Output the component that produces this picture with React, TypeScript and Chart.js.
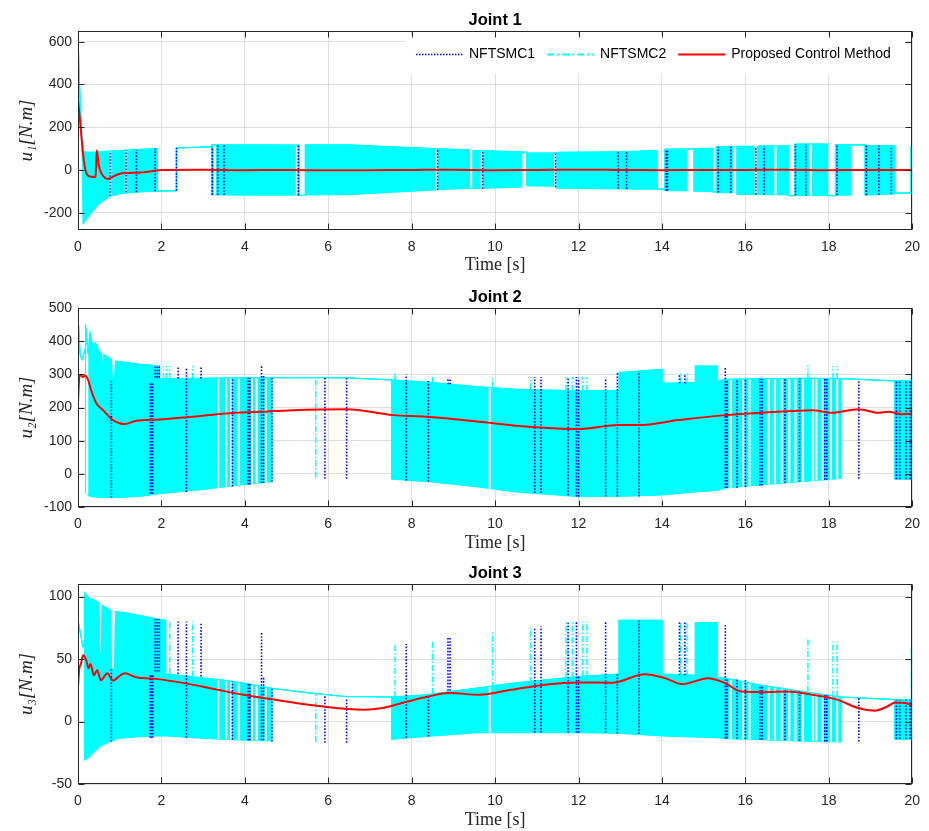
import { useEffect, useRef } from "react";
import { Chart, registerables } from "chart.js";

Chart.register(...registerables);

// ---------------- DATA ----------------
// Joint 1: NFTSMC2 chattering envelope (time, upper, lower)
const j1BandT = [0, 0.03, 0.06, 0.09, 0.12, 0.3, 0.5, 0.75, 1.0, 1.3, 1.6, 1.9, 1.9, 2.36, 2.36, 3.2, 3.2, 4.3, 5.3, 5.3, 5.45, 5.45, 6.5, 7.5, 8.55, 9.38, 9.38, 9.47, 9.47, 10.64, 10.64, 10.76, 10.76, 11.4, 11.48, 12.5, 13.4, 13.88, 13.88, 14.07, 14.07, 14.6, 14.6, 14.77, 14.77, 15.2, 15.2, 15.3, 15.3, 15.7, 15.7, 15.8, 15.8, 16.2, 16.2, 16.3, 16.3, 16.7, 17.03, 17.03, 17.19, 17.19, 17.97, 17.97, 18.16, 18.16, 18.52, 18.52, 18.87, 18.87, 19.58, 19.58, 19.97, 19.97, 20];
const j1BandHi = [640, 430, 280, 165, 85, 82, 85, 88, 90, 94, 97, 100, -99, -97, 103, 108, 117, 117, 116, -119, -119, 117, 117, 108, 100, 93, -86, -86, 90, 85, 83, 82, 79, 79, 82, 84, 87, 90, -90, -90, 97, 98, 98, 99, 100, 101, -102, -103, 109, 109, 109, 110, 110, 110, -115, -115, 112, 112, 113, -120, -120, 121, 121, -120, -120, 118, 118, 117, 117, 115, 113, -108, -108, 110, 110];
const j1BandLo = [640, 430, 280, 165, -255, -205, -160, -125, -112, -106, -102, -100, -99, -97, 103, 108, -117, -118, -118, -119, -119, -117, -116, -105, -94, -86, -86, -86, -88, -80, 83, 82, -75, -76, -86, -88, -90, -90, -90, -90, -97, -98, 98, 99, -100, -101, -102, -103, -106, -107, 109, 110, -115, -115, -115, -115, -115, -116, -117, -120, -120, -120, -120, -120, -120, -118, -118, 117, 117, -118, -112, -108, -108, -108, -108];
const j1GapT = [0.77, 1.15, 3.28, 5.25, 8.6, 9.68, 11.44, 16.72, 17.57];
const j1SpikeT: number[] = [];
const j1SpikeLo: number[] = [];
const j1SpikeHi: number[] = [];
const j1BlueT = [0.77, 1.15, 1.4, 1.85, 2.36, 3.22, 3.35, 3.5, 5.28, 8.62, 9.7, 11.45, 12.95, 13.15, 14.1, 14.13, 15.35, 15.65, 16.25, 16.45, 17.2, 17.45, 18.2, 18.9, 19.2, 19.5];
const j1BlueLo = [-122, -105, -104, -100, -97, -117, -117, -117, -118, -94, -88, -80, -89, -89, -97, -97, -106, -107, -115, -115, -120, -120, -118, -118, -116, -113];
const j1BlueHi = [88, 92, 94, 100, 103, 108, 117, 117, 116, 100, 90, 80, 86, 86, 97, 97, 109, 109, 110, 112, 121, 121, 118, 115, 114, 113];
const j1RedT = [0, 0.04, 0.08, 0.13, 0.18, 0.25, 0.4, 0.42, 0.45, 0.5, 0.56, 0.65, 0.72, 0.85, 1.0, 1.2, 1.5, 1.8, 2.0, 3, 4, 5, 6, 7, 8, 9, 10, 11, 12, 13, 14, 15, 16, 17, 18, 19, 20];
const j1RedV = [330, 250, 160, 60, 0, -28, -33, -30, 92, 20, -15, -38, -42, -30, -18, -14, -12, -5, 0, 1, -1, 0, -2, -1, 0, 1, -1, 0, 1, 0, -1, 0, 0, 1, -1, 0, 0];

// Joint 2
const j2BandT = [0, 0.05, 0.1, 0.15, 0.18, 0.18, 0.24, 0.29, 0.35, 0.42, 0.5, 0.56, 0.58, 0.62, 0.8, 0.82, 0.88, 0.9, 1.5, 1.95, 1.95, 3.0, 3.4, 4.0, 4.65, 4.65, 6.0, 6.5, 7.52, 7.52, 8.5, 9.6, 10.5, 12.0, 12.97, 12.97, 14.0, 14.0, 14.8, 14.8, 15.32, 15.32, 15.52, 16.5, 17.5, 18.3, 18.3, 19.58, 19.58, 20];
const j2BandHi = [480, 360, 345, 365, 380, 450, 360, 425, 385, 395, 370, 360, 310, 360, 345, 285, 285, 340, 330, 325, 287, 288, 289, 290, 290, 290, 290, 289, 283, 283, 275, 262, 255, 250, 252, 305, 315, 273, 275, 325, 325, 280, 285, 287, 288, 287, 287, 280, 280, 280];
const j2BandLo = [480, 360, 345, 365, 380, -58, -65, -68, -70, -70, -71, -71, -71, -72, -72, -72, -72, -72, -68, -60, -60, -47, -41, -32, -24, 290, 290, 289, 283, -16, -25, -40, -55, -69, -68, -68, -64, -64, -55, -55, -50, -50, -43, -32, -22, -14, 287, 280, -16, -17];
const j2GapT = [0.22, 3.36, 3.55, 3.67, 3.85, 4.17, 4.28, 4.5, 9.87, 15.65, 15.95, 16.1, 16.56, 16.71, 16.87, 17.05, 17.2, 17.38, 17.62, 17.7, 17.85, 18.05, 18.2];
const j2SpikeT = [2.05, 2.12, 2.2, 2.75, 5.7, 7.6, 8.5, 9.94, 10.85, 11.7, 11.85, 12.1, 12.2, 14.45, 14.6, 17.5, 18.1, 18.2, 19.98];
const j2SpikeLo = [287, 287, 287, 287, -12, 283, 275, 260, 255, 250, 250, 250, 250, 273, 273, 288, 287, 287, 280];
const j2SpikeHi = [325, 325, 325, 325, 290, 308, 300, 293, 292, 292, 292, 292, 292, 303, 303, 328, 325, 325, 300];
const j2BlueT = [0.8, 1.73, 1.76, 1.79, 1.85, 1.9, 1.95, 2.4, 2.6, 2.95, 3.7, 4.08, 4.12, 4.4, 4.45, 4.65, 5.92, 6.44, 7.87, 8.4, 8.87, 8.92, 10.95, 11.1, 11.75, 11.95, 12.0, 12.65, 12.93, 13.45, 14.42, 14.55, 15.52, 15.56, 15.8, 16.0, 16.35, 16.4, 16.95, 17.3, 17.9, 17.95, 18.72, 19.62, 19.7, 19.85, 19.95];
const j2BlueLo = [-72, -60, -60, -60, 290, 290, 290, 287, -55, 287, -38, -32, -32, -28, -28, -24, -15, -15, -20, -23, 270, 270, -58, -58, -65, -68, -69, -68, -68, -68, 273, 273, -43, -43, -42, -40, -35, -35, -28, -24, -18, -18, -15, -16, -16, -16, -16];
const j2BlueHi = [285, 272, 272, 272, 325, 325, 325, 325, 318, 325, 289, 290, 290, 330, 300, 290, 290, 290, 300, 280, 290, 290, 292, 292, 292, 292, 290, 290, 305, 310, 300, 300, 322, 285, 285, 285, 287, 287, 287, 288, 288, 288, 285, 280, 280, 280, 280];
const j2RedT = [0, 0.03, 0.06, 0.12, 0.18, 0.25, 0.32, 0.44, 0.6, 0.84, 1.12, 1.4, 1.95, 2.75, 3.55, 4.35, 5.15, 6.43, 7.55, 8.35, 9.62, 10.8, 12.0, 12.97, 13.45, 14.4, 15.52, 16.4, 17.6, 18.07, 18.71, 19.19, 19.43, 19.75, 20];
const j2RedV = [215, 290, 298, 292, 296, 280, 250, 213, 192, 162, 150, 160, 164, 172, 182, 187, 192, 195, 177, 172, 157, 142, 135, 147, 147, 162, 177, 184, 192, 184, 195, 184, 187, 180, 182];

// Joint 3
const j3BandT = [0, 0.06, 0.12, 0.155, 0.155, 0.25, 0.4, 0.5, 0.52, 0.56, 0.58, 0.78, 0.8, 0.88, 0.9, 1.3, 1.9, 2.1, 2.1, 2.7, 3.5, 4.0, 4.65, 4.65, 5.5, 6.4, 7.52, 7.52, 8.35, 9.6, 10.5, 12.0, 12.97, 12.97, 14.0, 14.0, 14.8, 14.8, 15.32, 15.32, 15.52, 16.3, 17.6, 18.3, 18.3, 19.58, 19.58, 20];
const j3BandHi = [81, 70, 60, 62, 103, 99, 97, 95, 55, 55, 93, 89, 42, 42, 88, 86, 82, 81, 38, 36, 33, 30.5, 26.5, 26.5, 23, 20, 19.6, 19.6, 21.4, 27, 31, 36, 38, 81, 81, 38, 37, 79, 79, 35, 34.7, 29.4, 22.8, 19.6, 19.6, 17.5, 17.5, 17.5];
const j3BandLo = [81, 70, 60, 62, -31, -29, -24, -21, -20, -19.6, -19, -16, -16, -15, -14, -12.5, -11.6, -11.5, -11.5, -13, -14.3, -15, -15.6, 26.5, 23, 20, 19.6, -14.3, -12, -9, -9, -9, -9.5, -9.5, -11.6, -11.6, -12.5, -12.5, -13, -13, -13.8, -14.5, -16, -16.4, 19.6, 17.5, -14.3, -14.3];
const j3GapT = [3.36, 3.55, 3.67, 3.85, 4.17, 4.28, 4.5, 9.87, 15.65, 15.95, 16.1, 16.56, 16.71, 16.87, 17.05, 17.2, 17.38, 17.62, 17.7, 17.85, 18.05, 18.2];
const j3SpikeT = [2.2, 2.75, 5.7, 7.6, 8.5, 9.94, 10.85, 11.7, 11.85, 12.1, 12.2, 14.45, 14.6, 17.5, 18.1, 18.2, 19.98];
const j3SpikeLo = [38, 36, -16.4, 19.6, 22, 27, 31, 35, 35, 36, 36, 37, 37, 24, 20, 20, 17];
const j3SpikeHi = [81, 80, 23, 62, 65, 72, 75, 80, 80, 80, 80, 80, 80, 66, 64, 64, 60];
const j3BlueT = [0.8, 1.73, 1.76, 1.79, 1.85, 1.9, 1.95, 2.4, 2.6, 2.95, 3.7, 4.08, 4.12, 4.4, 4.45, 4.65, 5.92, 6.44, 7.87, 8.4, 8.87, 8.92, 10.95, 11.1, 11.75, 11.95, 12.0, 12.65, 12.93, 13.45, 14.42, 14.55, 15.52, 15.56, 15.8, 16.0, 16.35, 16.4, 16.95, 17.3, 17.9, 17.95, 18.72, 19.62, 19.7, 19.85, 19.95];
const j3BlueLo = [-16, -13, -13, -13, 40, 40, 40, 38, -13, 36, -14.5, -15, -15, -15, -15, -16, -17, -17, -13, -12, 22, 22, -9, -9, -9, -9, -9, -9, -9.5, -10, 37, 37, -13.5, -13.5, -13.8, -14, -14.5, -14.5, -15, -15.5, -16, -16, -16, -14, -14, -14, -14];
const j3BlueHi = [42, 38, 38, 38, 82, 82, 82, 80, 80, 79, 32, 30, 30, 71, 35, 27, 21, 19, 62, 21, 67, 67, 75, 76, 79, 80, 36, 80, 38, 81, 80, 80, 77, 35, 34, 33, 29, 29, 26, 24, 21, 21, 19, 17.5, 17.5, 17.5, 17.5];
const j3RedT = [0, 0.03, 0.07, 0.12, 0.2, 0.25, 0.3, 0.38, 0.46, 0.55, 0.7, 0.84, 1.02, 1.12, 1.4, 1.92, 2.55, 3.35, 3.97, 4.6, 5.87, 6.83, 7.3, 7.9, 8.4, 8.9, 9.62, 10.4, 11.2, 12.0, 12.8, 13.6, 14.07, 14.5, 15.1, 15.5, 15.9, 16.5, 17.0, 17.6, 18.2, 18.7, 19.1, 19.4, 19.6, 19.9, 20];
const j3RedV = [28, 42, 46, 53, 49, 42.6, 46, 37, 41, 33, 38.6, 32.8, 37, 38.6, 35.4, 33.9, 30.7, 25.4, 21.4, 18, 12, 9.5, 10.8, 16, 20, 22.8, 21.4, 25.4, 29.4, 31.2, 31, 37.8, 34.7, 29.9, 34.7, 31, 24, 23.5, 24, 21.4, 17.5, 10.8, 8.7, 12, 15.3, 14.3, 11.7];

const titles = ["Joint 1", "Joint 2", "Joint 3"];
const yLabels = ["u\u2081[N.m]", "u\u2082[N.m]", "u\u2083[N.m]"];
const legendNames = ["NFTSMC1", "NFTSMC2", "Proposed Control Method"];
const xLabel = "Time [s]";

// ---------------- STYLE ----------------
const CYAN = "#00ffff";
const BLUE = "#0000ff";
const RED = "#ff0000";
const AX = "#262626";
const GRID = "#dedede";
const SANS = "'Liberation Sans', Arial, Helvetica, sans-serif";
const SERIF = "'Liberation Serif', 'Times New Roman', serif";
const W = 929;

type Pt = { x: number; y: number | null };

const pts = (t: number[], v: number[]): Pt[] => t.map((x, i) => ({ x, y: v[i] }));
const bars = (t: number[], lo: number[], hi: number[]): Pt[] =>
  t.flatMap((x, i) => [{ x, y: lo[i] }, { x, y: hi[i] }, { x, y: null }]);
const envAt = (t: number[], v: number[], x: number) => {
  for (let i = 0; i < t.length - 1; i++) {
    if (t[i + 1] > t[i] && x >= t[i] && x <= t[i + 1]) {
      const f = (x - t[i]) / (t[i + 1] - t[i]);
      return v[i] + f * (v[i + 1] - v[i]);
    }
  }
  return v[v.length - 1];
};
const gapBars = (g: number[], t: number[], hi: number[], lo: number[]): Pt[] =>
  g.flatMap((x) => [{ x, y: envAt(t, lo, x) }, { x, y: envAt(t, hi, x) }, { x, y: null }]);

interface PanelCfg {
  idx: number;
  top: number;
  height: number;
  padTop: number;
  xHeight: number;
  xTitlePad: number;
  yMin: number;
  yMax: number;
  yStep: number;
  bandT: number[];
  bandHi: number[];
  bandLo: number[];
  gapT: number[];
  spikeT: number[];
  spikeLo: number[];
  spikeHi: number[];
  blueT: number[];
  blueLo: number[];
  blueHi: number[];
  redT: number[];
  redV: number[];
}

const panels: PanelCfg[] = [
  { idx: 0, top: 0, height: 278, padTop: 31, xHeight: 48, xTitlePad: 2, yMin: -281, yMax: 650, yStep: 200,
    bandT: j1BandT, bandHi: j1BandHi, bandLo: j1BandLo, gapT: j1GapT, spikeT: j1SpikeT, spikeLo: j1SpikeLo, spikeHi: j1SpikeHi,
    blueT: j1BlueT, blueLo: j1BlueLo, blueHi: j1BlueHi, redT: j1RedT, redV: j1RedV },
  { idx: 1, top: 278, height: 278, padTop: 30, xHeight: 49, xTitlePad: 2, yMin: -100, yMax: 500, yStep: 100,
    bandT: j2BandT, bandHi: j2BandHi, bandLo: j2BandLo, gapT: j2GapT, spikeT: j2SpikeT, spikeLo: j2SpikeLo, spikeHi: j2SpikeHi,
    blueT: j2BlueT, blueLo: j2BlueLo, blueHi: j2BlueHi, redT: j2RedT, redV: j2RedV },
  { idx: 2, top: 556, height: 275, padTop: 28, xHeight: 47, xTitlePad: 0, yMin: -50, yMax: 110, yStep: 50,
    bandT: j3BandT, bandHi: j3BandHi, bandLo: j3BandLo, gapT: j3GapT, spikeT: j3SpikeT, spikeLo: j3SpikeLo, spikeHi: j3SpikeHi,
    blueT: j3BlueT, blueLo: j3BlueLo, blueHi: j3BlueHi, redT: j3RedT, redV: j3RedV },
];

const legendStyles = [
  { color: BLUE, dash: [1.5, 1.5], width: 1.5 },
  { color: CYAN, dash: [7, 3, 2, 3], width: 2 },
  { color: RED, dash: [] as number[], width: 2 },
];

function framePlugin(p: PanelCfg) {
  return {
    id: "frame" + p.idx,
    afterDraw(chart: any) {
      const { ctx, chartArea: a, scales } = chart;
      ctx.save();
      if (p.idx === 0) {
        ctx.fillStyle = "#ffffff";
        ctx.fillRect(406, 35, 500, 39);
        ctx.font = "14px " + SANS;
        ctx.textBaseline = "middle";
        ctx.textAlign = "left";
        let x = 416;
        const y = 54.5;
        legendNames.forEach((name, i) => {
          const st = legendStyles[i];
          ctx.strokeStyle = st.color;
          ctx.lineWidth = st.width;
          ctx.setLineDash(st.dash);
          ctx.beginPath();
          ctx.moveTo(x, y);
          ctx.lineTo(x + 47, y);
          ctx.stroke();
          ctx.setLineDash([]);
          ctx.fillStyle = "#000";
          ctx.fillText(name, x + 53, y);
          x += 53 + ctx.measureText(name).width + 12;
        });
      }
      const L = Math.round(a.left) + 0.5;
      const R = Math.round(a.right) - 0.5;
      const T = Math.round(a.top) + 0.5;
      const B = Math.round(a.bottom) - 0.5;
      ctx.strokeStyle = AX;
      ctx.lineWidth = 1;
      ctx.setLineDash([]);
      ctx.strokeRect(L, T, R - L, B - T);
      ctx.beginPath();
      scales.x.ticks.forEach((t: any) => {
        const px = Math.round(scales.x.getPixelForValue(t.value)) + 0.5;
        ctx.moveTo(px, B);
        ctx.lineTo(px, B - 6);
        ctx.moveTo(px, T);
        ctx.lineTo(px, T + 6);
      });
      scales.y.ticks.forEach((t: any) => {
        const py = Math.round(scales.y.getPixelForValue(t.value)) + 0.5;
        ctx.moveTo(L, py);
        ctx.lineTo(L + 6, py);
        ctx.moveTo(R, py);
        ctx.lineTo(R - 6, py);
      });
      ctx.stroke();
      ctx.fillStyle = "#000";
      ctx.font = "bold 16.5px " + SANS;
      ctx.textAlign = "center";
      ctx.textBaseline = "middle";
      ctx.fillText(titles[p.idx], (a.left + a.right) / 2, a.top - 11);
      ctx.restore();
    },
  };
}

function buildConfig(p: PanelCfg): any {
  const datasets: any[] = [
    { label: "band-hi", data: pts(p.bandT, p.bandHi), borderColor: CYAN, borderWidth: 1, fill: false, order: 6 },
    { label: "band-lo", data: pts(p.bandT, p.bandLo), borderColor: CYAN, borderWidth: 1, backgroundColor: CYAN, fill: "-1", order: 6 },
    { label: "gaps", data: gapBars(p.gapT, p.bandT, p.bandHi, p.bandLo), borderColor: "#ffffff", borderWidth: 2.2, fill: false, order: 5 },
    { label: "band-edge", data: pts(p.bandT, p.bandHi), borderColor: CYAN, borderWidth: 1.2, fill: false, order: 4 },
    { label: legendNames[1], data: bars(p.spikeT, p.spikeLo, p.spikeHi), borderColor: CYAN, borderWidth: 1.5, borderDash: [6, 2, 1.5, 2], fill: false, order: 3 },
    { label: legendNames[0], data: bars(p.blueT, p.blueLo, p.blueHi), borderColor: BLUE, borderWidth: 1.6, borderDash: [1.6, 1.6], fill: false, order: 2 },
    { label: legendNames[2], data: pts(p.redT, p.redV), borderColor: RED, borderWidth: 2, cubicInterpolationMode: "monotone", fill: false, order: 1 },
  ];
  const yStep = p.yStep;
  return {
    type: "line",
    data: { datasets },
    options: {
      animation: false,
      responsive: false,
      devicePixelRatio: 1,
      events: [],
      layout: { padding: { top: p.padTop, right: 15, left: 0, bottom: 0 } },
      elements: { point: { radius: 0, hoverRadius: 0 }, line: { tension: 0, borderCapStyle: "butt" } },
      plugins: { legend: { display: false }, tooltip: { enabled: false }, title: { display: false } },
      scales: {
        x: {
          type: "linear",
          min: 0,
          max: 20,
          ticks: { stepSize: 2, color: AX, font: { family: SANS, size: 14 }, padding: 9, maxRotation: 0 },
          grid: { color: GRID, drawTicks: false, lineWidth: 1 },
          border: { display: false },
          title: { display: true, text: xLabel, color: AX, font: { family: SERIF, size: 18 }, padding: { top: 0, bottom: p.xTitlePad } },
          afterFit: (s: any) => { s.height = p.xHeight; },
        },
        y: {
          type: "linear",
          min: p.yMin,
          max: p.yMax,
          ticks: { stepSize: yStep, includeBounds: false, color: AX, font: { family: SANS, size: 14 }, padding: 6 },
          grid: { color: GRID, drawTicks: false, lineWidth: 1 },
          border: { display: false },
          title: { display: true, text: yLabels[p.idx], color: AX, font: { family: SERIF, size: 19, style: "italic" }, padding: { top: 16, bottom: 0 } },
          afterBuildTicks: (s: any) => {
            s.ticks = s.ticks.filter((t: any) => Math.abs(t.value / yStep - Math.round(t.value / yStep)) < 1e-9);
          },
          afterFit: (s: any) => { s.width = 78; },
        },
      },
    },
    plugins: [framePlugin(p)],
  };
}

function Panel({ p }: { p: PanelCfg }) {
  const ref = useRef<HTMLCanvasElement | null>(null);
  useEffect(() => {
    const chart = new Chart(ref.current as HTMLCanvasElement, buildConfig(p));
    return () => chart.destroy();
  }, [p]);
  return (
    <canvas
      ref={ref}
      width={W}
      height={p.height}
      style={{ position: "absolute", left: 0, top: p.top, width: W, height: p.height }}
    />
  );
}

export default function App() {
  return (
    <div style={{ position: "absolute", left: 0, top: 0, width: W, height: 831, background: "#ffffff" }}>
      {panels.map((p) => (
        <Panel key={p.idx} p={p} />
      ))}
    </div>
  );
}
